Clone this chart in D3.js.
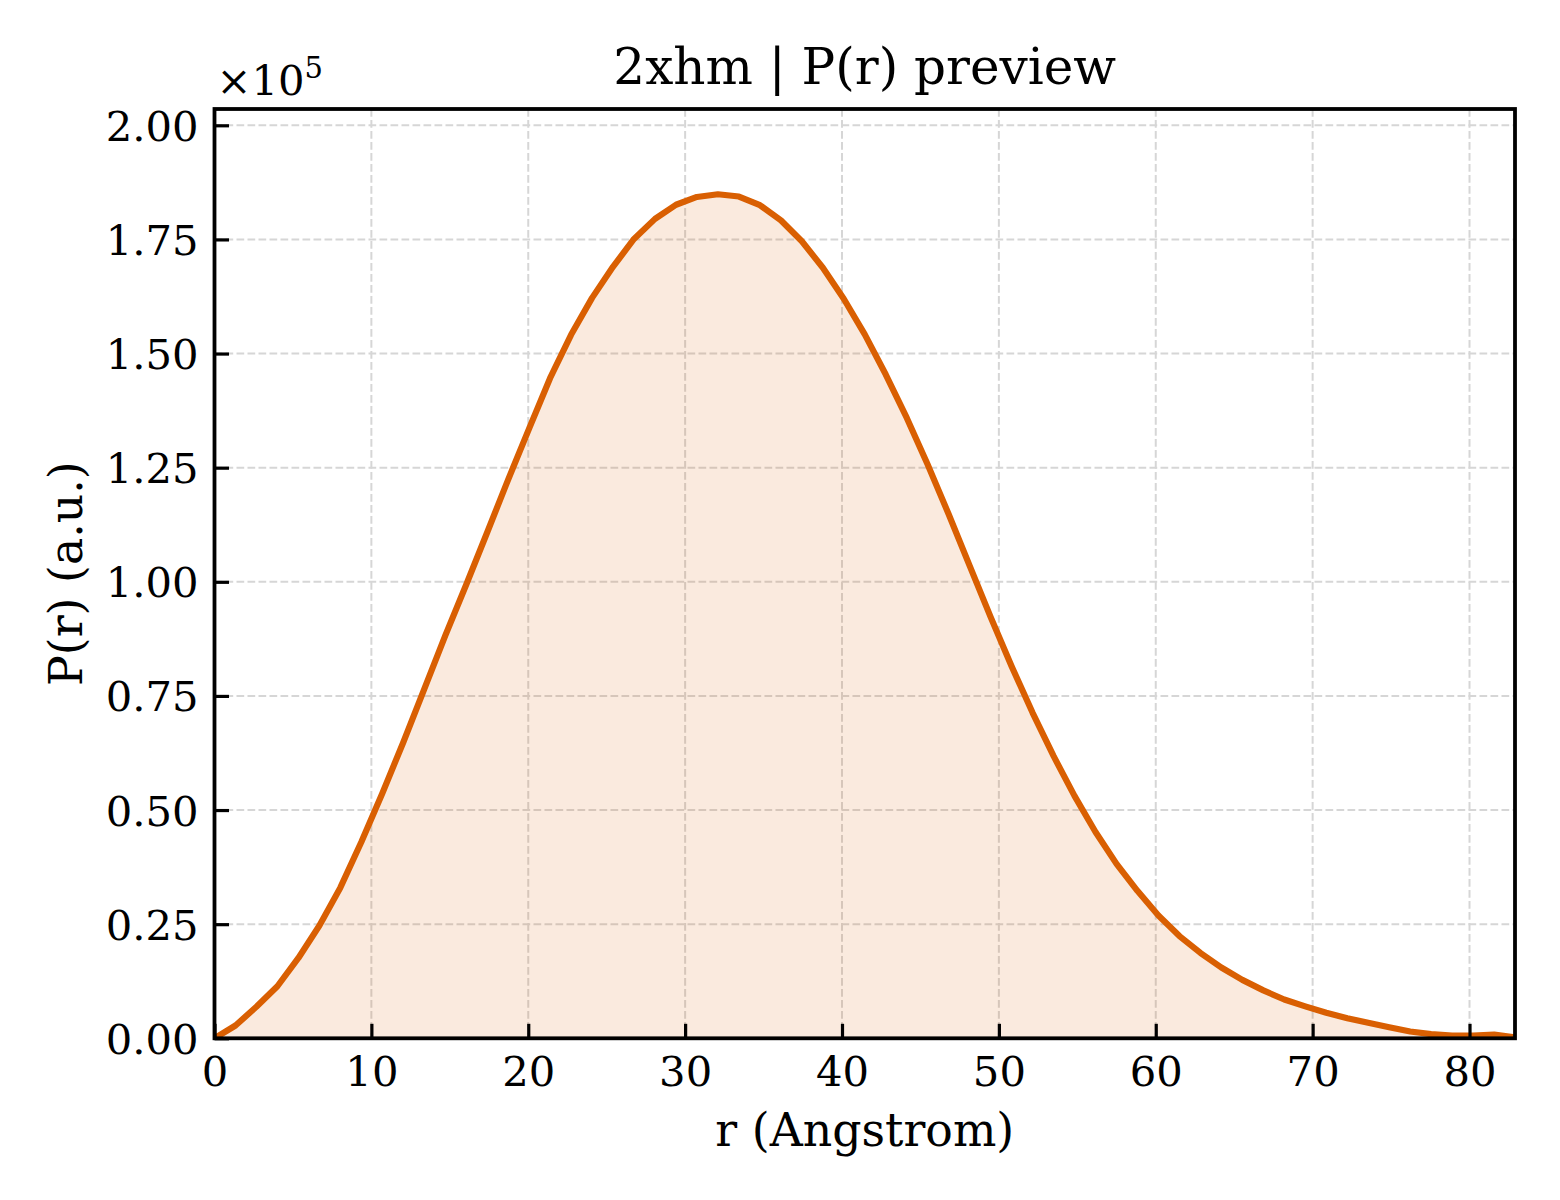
<!DOCTYPE html>
<html>
<head>
<meta charset="utf-8">
<script src="https://cdn.jsdelivr.net/npm/d3@7"></script>
<style>
  html, body { margin: 0; padding: 0; background: #fff; }
  svg { display: block; }
  text { font-family: "DejaVu Serif", serif; fill: #000; }
</style>
</head>
<body>
<svg id="chart" width="1560" height="1200"></svg>
<script>
// ---- data ----
const rValues = [0, 1.34, 2.67, 4.01, 5.35, 6.69, 8.02, 9.36, 10.70, 12.03, 13.37, 14.71, 16.05, 17.38,
  18.72, 20.06, 21.39, 22.73, 24.07, 25.40, 26.74, 28.08, 29.42, 30.75, 32.09, 33.43, 34.77, 36.10,
  37.44, 38.78, 40.11, 41.45, 42.79, 44.13, 45.46, 46.80, 48.14, 49.47, 50.81, 52.15, 53.49, 54.82,
  56.16, 57.50, 58.83, 60.17, 61.51, 62.85, 64.18, 65.52, 66.86, 68.19, 69.53, 70.87, 72.21, 73.54,
  74.88, 76.22, 77.55, 78.89, 80.23, 81.57, 82.90];
const prValues = [0, 2800, 6900, 11400, 17600, 24700, 33000, 43000, 53700, 64800, 76500, 88200, 99400, 110800,
  122400, 133600, 144600, 154100, 162200, 169000, 175100, 179500, 182600, 184300, 184900, 184400, 182500, 179200,
  174600, 168800, 162000, 154200, 145400, 135900, 125700, 114800, 103500, 92300, 81500, 71300, 61800, 53100,
  45200, 38200, 32300, 26900, 22400, 18700, 15500, 12800, 10500, 8500, 7000, 5600, 4400, 3400,
  2400, 1500, 900, 600, 600, 800, 200];
const xTicks = [0, 10, 20, 30, 40, 50, 60, 70, 80];
const yTicks = [0, 0.25, 0.5, 0.75, 1.0, 1.25, 1.5, 1.75, 2.0];
const titleText = "2xhm | P(r) preview";
const xLabelText = "r (Angstrom)";
const yLabelText = "P(r) (a.u.)";
const yScaleExp = 5;

// ---- layout ----
const L = 214.5, R = 1515, T = 109, B = 1038.3;
const svg = d3.select("#chart");
const x = d3.scaleLinear().domain([0, 82.9]).range([L, R]);
const y = d3.scaleLinear().domain([0, 2.0357]).range([B, T]);
const data = rValues.map((r, i) => ({ r, v: prValues[i] / Math.pow(10, yScaleExp) }));

// grid
const grid = svg.append("g").attr("stroke", "#d6d6d6").attr("stroke-width", 2).attr("stroke-dasharray", "7.7,3.3");
grid.selectAll("line.v").data(xTicks).join("line")
  .attr("x1", d => x(d)).attr("x2", d => x(d)).attr("y1", T).attr("y2", B);
grid.selectAll("line.h").data(yTicks).join("line")
  .attr("y1", d => y(d)).attr("y2", d => y(d)).attr("x1", L).attr("x2", R);

// clip
svg.append("clipPath").attr("id", "clip").append("rect")
  .attr("x", L).attr("y", T).attr("width", R - L).attr("height", B - T);

const plot = svg.append("g").attr("clip-path", "url(#clip)");
plot.append("path").datum(data)
  .attr("d", d3.area().x(d => x(d.r)).y0(y(0)).y1(d => y(d.v)))
  .attr("fill", "#d95f02").attr("fill-opacity", 0.13);
plot.append("path").datum(data)
  .attr("d", d3.line().x(d => x(d.r)).y(d => y(d.v)))
  .attr("fill", "none").attr("stroke", "#d95f02").attr("stroke-width", 6.2)
  .attr("stroke-linejoin", "round");

// axes with inward ticks
const xAxis = d3.axisBottom(x).tickValues(xTicks).tickSizeInner(-14.5).tickSizeOuter(0).tickPadding(0)
  .tickFormat(d3.format("d"));
const gx = svg.append("g").attr("transform", `translate(0,${B})`).call(xAxis);
gx.select(".domain").remove();
gx.selectAll(".tick line").attr("stroke", "#000").attr("stroke-width", 3.2);
gx.selectAll(".tick text").attr("font-size", 41.7).attr("dy", null).attr("y", 48)
  .attr("font-family", "DejaVu Serif").attr("fill", "#000");

const yAxis = d3.axisLeft(y).tickValues(yTicks).tickSizeInner(-14.5).tickSizeOuter(0).tickPadding(0)
  .tickFormat(d3.format(".2f"));
const gy = svg.append("g").attr("transform", `translate(${L},0)`).call(yAxis);
gy.select(".domain").remove();
gy.selectAll(".tick line").attr("stroke", "#000").attr("stroke-width", 3.2);
gy.selectAll(".tick text").attr("font-size", 41.7).attr("x", -16).attr("dy", "0.36em")
  .attr("font-family", "DejaVu Serif").attr("fill", "#000");

// frame
svg.append("rect").attr("x", L).attr("y", T).attr("width", R - L).attr("height", B - T)
  .attr("fill", "none").attr("stroke", "#000").attr("stroke-width", 3.8);

// offset text
const off = svg.append("text").attr("x", L + 2).attr("y", 95).attr("font-size", 41.7);
off.append("tspan").text("×10");
off.append("tspan").attr("font-size", 29).attr("dy", -17).text(String(yScaleExp));

// title & labels
svg.append("text").attr("x", (L + R) / 2).attr("y", 84).attr("text-anchor", "middle")
  .attr("font-size", 50).text(titleText);
svg.append("text").attr("x", (L + R) / 2).attr("y", 1146).attr("text-anchor", "middle")
  .attr("font-size", 45.8).text(xLabelText);
svg.append("text").attr("transform", `translate(82,${(T + B) / 2}) rotate(-90)`).attr("text-anchor", "middle")
  .attr("font-size", 45.8).text(yLabelText);
</script>
</body>
</html>
